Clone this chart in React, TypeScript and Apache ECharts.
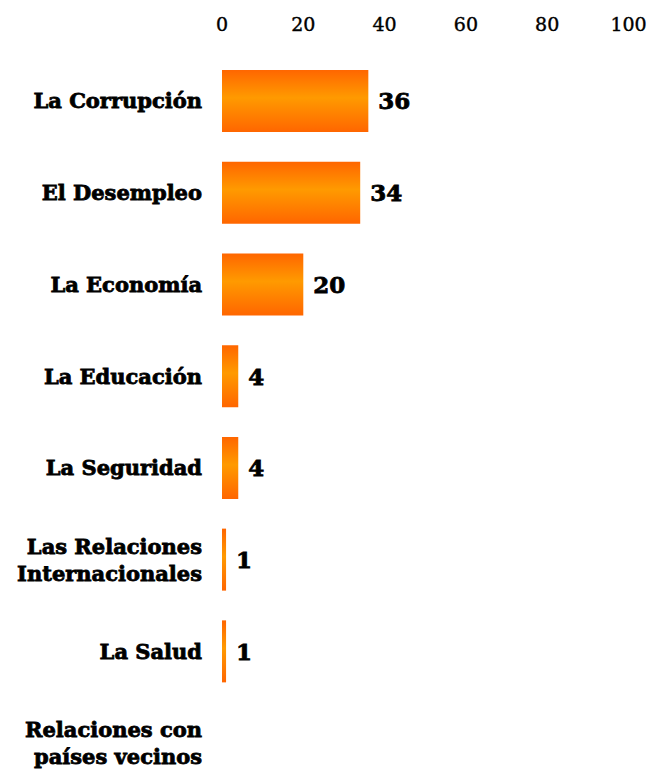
import React, { useEffect, useRef } from "react";
import * as echarts from "echarts";

const categories = [
  "La Corrupción",
  "El Desempleo",
  "La Economía",
  "La Educación",
  "La Seguridad",
  "Las Relaciones\nInternacionales",
  "La Salud",
  "Relaciones con\npaíses vecinos",
];
const values = [36, 34, 20, 4, 4, 1, 1, 0];
const axisMin = 0;
const axisMax = 100;
const axisInterval = 20;

export default function App() {
  const ref = useRef<HTMLDivElement>(null);
  useEffect(() => {
    if (!ref.current) return;
    const chart = echarts.init(ref.current, undefined, { renderer: "svg" });
    const font = "'DejaVu Serif', serif";
    chart.setOption({
      animation: false,
      backgroundColor: "#ffffff",
      grid: {
        left: 222,
        right: 33.5,
        top: 55,
        height: 734,
        containLabel: false,
        outerBoundsMode: "none",
      },
      xAxis: {
        type: "value",
        position: "top",
        min: axisMin,
        max: axisMax,
        interval: axisInterval,
        axisLine: { show: false },
        axisTick: { show: false },
        splitLine: { show: false },
        axisLabel: {
          color: "#000",
          fontFamily: font,
          fontSize: 19,
          margin: 22,
          textBorderColor: "#000",
          textBorderWidth: 0.4,
        },
      },
      yAxis: {
        type: "category",
        data: categories,
        inverse: true,
        axisLine: { show: false },
        axisTick: { show: false },
        axisLabel: {
          color: "#000",
          fontFamily: font,
          fontWeight: "bold",
          fontSize: 21,
          lineHeight: 27,
          margin: 20,
          align: "right",
          textBorderColor: "#000",
          textBorderWidth: 0.8,
        },
      },
      series: [
        {
          type: "bar",
          data: values,
          barWidth: 62,
          itemStyle: {
            color: new echarts.graphic.LinearGradient(0, 0, 0, 1, [
              { offset: 0, color: "#ff6600" },
              { offset: 0.45, color: "#ff9a00" },
              { offset: 1, color: "#ff6600" },
            ]),
          },
          label: {
            show: true,
            position: "right",
            distance: 10,
            color: "#000",
            fontFamily: font,
            fontWeight: "bold",
            fontSize: 23,
            textBorderColor: "#000",
            textBorderWidth: 0.8,
            formatter: (p: any) => (p.value ? String(p.value) : ""),
          },
        },
      ],
    });
    return () => chart.dispose();
  }, []);
  return (
    <div
      ref={ref}
      style={{ position: "fixed", left: 0, top: 0, width: 662, height: 769 }}
    />
  );
}
